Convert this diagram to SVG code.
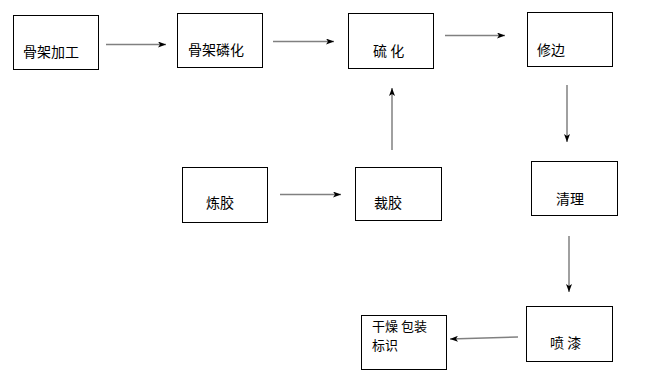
<svg xmlns="http://www.w3.org/2000/svg" width="657" height="373" viewBox="0 0 657 373">
<style>
.box{fill:#fff;stroke:#000;stroke-width:1}
.t{font-family:"Noto Sans CJK SC","Liberation Sans",sans-serif;font-size:14px;fill:#000}
.s{font-size:13px}
.c{stroke:#808080;stroke-width:1.5;fill:none;marker-end:url(#ah)}
</style>
<defs>
<marker id="ah" viewBox="0 0 8 6" refX="8" refY="3" markerWidth="8" markerHeight="6" markerUnits="userSpaceOnUse" orient="auto">
<path d="M0,0 L8,3 L0,6 L2,3 z" fill="#000"/>
</marker>
</defs>
<rect width="657" height="373" fill="#fff"/>
<g id="connectors">
<line class="c" x1="106" y1="44.5" x2="166" y2="44.5"/>
<line class="c" x1="273" y1="41.5" x2="334" y2="41.5"/>
<line class="c" x1="445" y1="35.5" x2="505" y2="35.5"/>
<line class="c" x1="567" y1="85" x2="567" y2="142"/>
<line class="c" x1="569" y1="236" x2="569" y2="292"/>
<line class="c" x1="518" y1="337" x2="450" y2="339"/>
<line class="c" x1="280" y1="194.5" x2="341" y2="194.5"/>
<line class="c" x1="392" y1="150" x2="392" y2="88"/>
</g>
<g id="n1"><rect class="box" x="13.5" y="15.5" width="85" height="54"/><text class="t" x="23" y="57">骨架加工</text></g>
<g id="n2"><rect class="box" x="177.5" y="13.5" width="85" height="54"/><text class="t" x="188" y="55">骨架磷化</text></g>
<g id="n3"><rect class="box" x="348.5" y="13.5" width="85" height="55"/><text class="t" x="373" y="56">硫 化</text></g>
<g id="n4"><rect class="box" x="527.5" y="12.5" width="85" height="54"/><text class="t" x="537" y="55">修边</text></g>
<g id="n5"><rect class="box" x="531.5" y="161.5" width="86" height="54"/><text class="t" x="556" y="204">清理</text></g>
<g id="n6"><rect class="box" x="526.5" y="306.5" width="86" height="55"/><text class="t" x="550" y="348">喷 漆</text></g>
<g id="n7"><rect class="box" x="361.5" y="315.5" width="85" height="54"/><text class="t s" x="372" y="331">干燥 包装</text><text class="t s" x="372" y="350">标识</text></g>
<g id="n8"><rect class="box" x="182.5" y="167.5" width="85" height="55"/><text class="t" x="206" y="208">炼胶</text></g>
<g id="n9"><rect class="box" x="355.5" y="167.5" width="86" height="53"/><text class="t" x="374" y="208">裁胶</text></g>
</svg>
